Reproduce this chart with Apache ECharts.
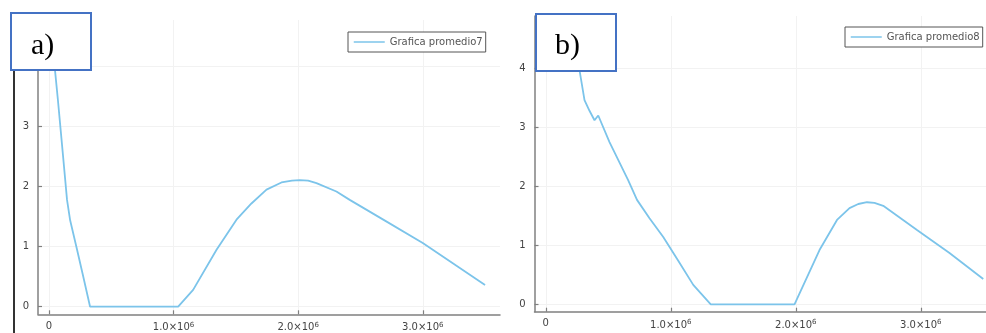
<!DOCTYPE html>
<html>
<head>
<meta charset="utf-8">
<script src="https://cdn.jsdelivr.net/npm/echarts@6/dist/echarts.min.js"></script>
<style>
html,body{margin:0;padding:0;background:#fff;}
#c{width:986px;height:333px;}
</style>
</head>
<body>
<div id="c"></div>
<script>
// ---- data (x in units of 1e6) ----
const nameA = 'Grafica promedio7';
const nameB = 'Grafica promedio8';
const xA = [0.01, 0.048, 0.072, 0.11, 0.145, 0.17, 0.22, 0.27, 0.33, 1.037, 1.157, 1.345, 1.505, 1.625, 1.746, 1.866, 1.95, 2.013, 2.08, 2.147, 2.307, 2.414, 2.7, 3.0, 3.5];
const yA = [4.8, 3.95, 3.44, 2.58, 1.78, 1.44, 1.0, 0.55, 0.0, 0.0, 0.28, 0.95, 1.45, 1.72, 1.95, 2.07, 2.1, 2.11, 2.1, 2.06, 1.92, 1.78, 1.43, 1.06, 0.36];
const xB = [0.17, 0.22, 0.27, 0.31, 0.35, 0.39, 0.42, 0.51, 0.66, 0.73, 0.83, 0.94, 1.06, 1.18, 1.32, 1.99, 2.19, 2.33, 2.43, 2.5, 2.57, 2.63, 2.70, 2.97, 3.23, 3.5];
const yB = [4.8, 4.45, 3.97, 3.46, 3.28, 3.12, 3.2, 2.75, 2.1, 1.77, 1.46, 1.14, 0.74, 0.33, 0.0, 0.0, 0.92, 1.43, 1.63, 1.7, 1.73, 1.72, 1.67, 1.26, 0.87, 0.43];
const xTicks = [0, 1e6, 2e6, 3e6];
const yTicksA = [0, 1, 2, 3, 4];
const yTicksB = [0, 1, 2, 3, 4];

const toPairs = (xs, ys) => xs.map((x, i) => [x * 1e6, ys[i]]);

const lineColor = '#7cc4ea';
const axisColor = '#808080';
const gridColor = '#f2f2f2';
const labelColor = '#444';
const fontSans = 'DejaVu Sans';

function xLabel(v) {
  if (Math.abs(v) < 1) return '0';
  return '{m|' + (v / 1e6).toFixed(1) + '×10}{s|6}';
}

function makeXAxis(gridIndex, min, max) {
  return {
    type: 'value', gridIndex, min, max,
    axisLine: { show: true, onZero: false, lineStyle: { color: axisColor, width: 1.5 } },
    axisTick: { show: true, inside: true, length: 4, customValues: xTicks, lineStyle: { color: axisColor, width: 1.2 } },
    axisLabel: {
      customValues: xTicks, margin: 7, color: labelColor, fontFamily: fontSans, fontSize: 10,
      formatter: xLabel,
      rich: {
        m: { fontSize: 10, color: labelColor, fontFamily: fontSans },
        s: { fontSize: 7, color: labelColor, fontFamily: fontSans, verticalAlign: 'top', padding: [0, 0, 6, 0] }
      }
    },
    splitLine: { show: true, lineStyle: { color: gridColor, width: 1 } }
  };
}
function makeYAxis(gridIndex, min, max, ticks) {
  return {
    type: 'value', gridIndex, min, max,
    axisLine: { show: true, onZero: false, lineStyle: { color: axisColor, width: 1.5 } },
    axisTick: { show: true, inside: true, length: 4, customValues: ticks, lineStyle: { color: axisColor, width: 1.2 } },
    axisLabel: { customValues: ticks, margin: 9, color: labelColor, fontFamily: fontSans, fontSize: 10 },
    splitLine: { show: true, lineStyle: { color: gridColor, width: 1 } }
  };
}

function makeLegend(name, left, top) {
  return {
    data: [name], left, top, orient: 'vertical',
    padding: [5, 3, 5, 5], itemWidth: 31, itemHeight: 12, itemGap: 5,
    borderColor: '#555', borderWidth: 1, backgroundColor: '#fff',
    itemStyle: { color: 'rgba(0,0,0,0)', borderWidth: 0, opacity: 0 },
    lineStyle: { color: lineColor, width: 1.5 },
    textStyle: { color: '#555', fontSize: 10, fontFamily: fontSans }
  };
}

const chart = echarts.init(document.getElementById('c'), null, { renderer: 'canvas' });
chart.setOption({
  backgroundColor: '#fff',
  animation: false,
  grid: [
    { left: 38, top: 20, width: 462, height: 294.3 },
    { left: 534.5, top: 16, width: 451.5, height: 295.7 }
  ],
  xAxis: [
    makeXAxis(0, -0.088e6, 3.62e6),
    makeXAxis(1, -0.09e6, 3.522e6)
  ],
  yAxis: [
    makeYAxis(0, -0.127, 4.778, yTicksA),
    makeYAxis(1, -0.125, 4.886, yTicksB)
  ],
  legend: [
    makeLegend(nameA, 348, 32),
    makeLegend(nameB, 845, 27)
  ],
  series: [
    {
      name: nameA, type: 'line', xAxisIndex: 0, yAxisIndex: 0,
      data: toPairs(xA, yA), symbol: 'none', smooth: false,
      lineStyle: { color: lineColor, width: 1.8 }, itemStyle: { color: lineColor }
    },
    {
      name: nameB, type: 'line', xAxisIndex: 1, yAxisIndex: 1,
      data: toPairs(xB, yB), symbol: 'none', smooth: false,
      lineStyle: { color: lineColor, width: 1.8 }, itemStyle: { color: lineColor }
    }
  ],
  graphic: [
    { type: 'line', shape: { x1: 14, y1: 70, x2: 14, y2: 333 }, style: { stroke: '#333', lineWidth: 2 }, z: 100 },
    { type: 'rect', shape: { x: 11, y: 13, width: 80, height: 57 }, style: { fill: '#fff', stroke: '#4472C4', lineWidth: 2 }, z: 100 },
    { type: 'text', x: 31, y: 46, style: { text: 'a)', font: '30px "Liberation Serif"', fill: '#000', verticalAlign: 'middle' }, z: 101 },
    { type: 'rect', shape: { x: 536, y: 14, width: 80, height: 57 }, style: { fill: '#fff', stroke: '#4472C4', lineWidth: 2 }, z: 100 },
    { type: 'text', x: 555, y: 46, style: { text: 'b)', font: '30px "Liberation Serif"', fill: '#000', verticalAlign: 'middle' }, z: 101 }
  ]
});
</script>
</body>
</html>
